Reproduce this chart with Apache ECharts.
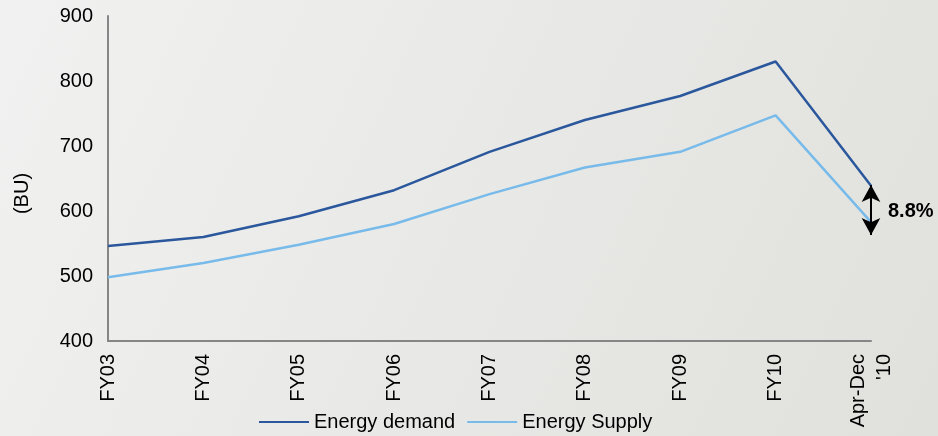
<!DOCTYPE html>
<html><head><meta charset="utf-8">
<script src="https://cdn.jsdelivr.net/npm/echarts@6/dist/echarts.min.js"></script>
<style>html,body{margin:0;padding:0;}#c{width:938px;height:436px;}</style>
</head><body><div id="c"></div>
<script>
const categories = ['FY03','FY04','FY05','FY06','FY07','FY08','FY09','FY10',"Apr-Dec\n'10"];
const energyDemand = [546, 560, 592, 632, 691, 740, 777, 830, 639];
const energySupply = [498, 520, 548, 580, 626, 667, 691, 747, 583];
const yTicks = { min: 400, max: 900, interval: 100 };
const gapLabel = '8.8%';
const gapArrow = [[8, 640], [8, 563]];
const gapLabelAt = [8, 600];

const chart = echarts.init(document.getElementById('c'));
chart.setOption({
  backgroundColor: new echarts.graphic.LinearGradient(0, 0, 1, 1, [
    { offset: 0, color: '#f1f1f1' },
    { offset: 1, color: '#e0e1dc' }
  ]),
  animation: false,
  textStyle: { fontFamily: 'Liberation Sans, Arial, sans-serif' },
  grid: { left: 108, top: 16, right: 67, bottom: 95 },
  legend: {
    bottom: -1, left: 254,
    itemWidth: 50, itemHeight: 2, itemGap: 12,
    icon: 'rect',
    textStyle: { fontSize: 20, color: '#000' },
    data: ['Energy demand', 'Energy Supply']
  },
  xAxis: {
    type: 'category', data: categories, boundaryGap: false,
    axisLine: { lineStyle: { color: '#868686', width: 2 } },
    axisTick: { show: false },
    axisLabel: { rotate: 90, fontSize: 20, color: '#000', margin: 13, lineHeight: 26, interval: 0 }
  },
  yAxis: {
    type: 'value', min: yTicks.min, max: yTicks.max, interval: yTicks.interval,
    name: '(BU)', nameLocation: 'middle', nameGap: 76, nameRotate: 90,
    nameTextStyle: { fontSize: 20, color: '#000', padding: [0, 30, 0, 0] },
    axisLine: { show: true, lineStyle: { color: '#868686', width: 2 } },
    axisTick: { show: false },
    splitLine: { show: false },
    axisLabel: { fontSize: 20, color: '#000', margin: 15 }
  },
  series: [
    {
      name: 'Energy demand', type: 'line', data: energyDemand,
      symbol: 'none', lineStyle: { color: '#2B579C', width: 2.5 },
      itemStyle: { color: '#2B579C' },
      markPoint: {
        silent: true, symbol: 'circle', symbolSize: 0,
        label: {
          show: true, position: 'right', distance: 17, formatter: gapLabel,
          fontSize: 20, fontWeight: 'bold', color: '#000'
        },
        data: [{ coord: gapLabelAt }]
      }
    },
    {
      name: 'Energy Supply', type: 'line', data: energySupply,
      symbol: 'none', lineStyle: { color: '#78BBEA', width: 2.5 },
      itemStyle: { color: '#78BBEA' },
      markLine: {
        silent: true,
        symbol: ['arrow', 'arrow'], symbolSize: [14, 17],
        lineStyle: { color: '#000', width: 2, type: 'solid' },
        label: { show: false },
        data: [[
          { coord: gapArrow[0] },
          { coord: gapArrow[1] }
        ]]
      }
    }
  ]
});
</script></body></html>
